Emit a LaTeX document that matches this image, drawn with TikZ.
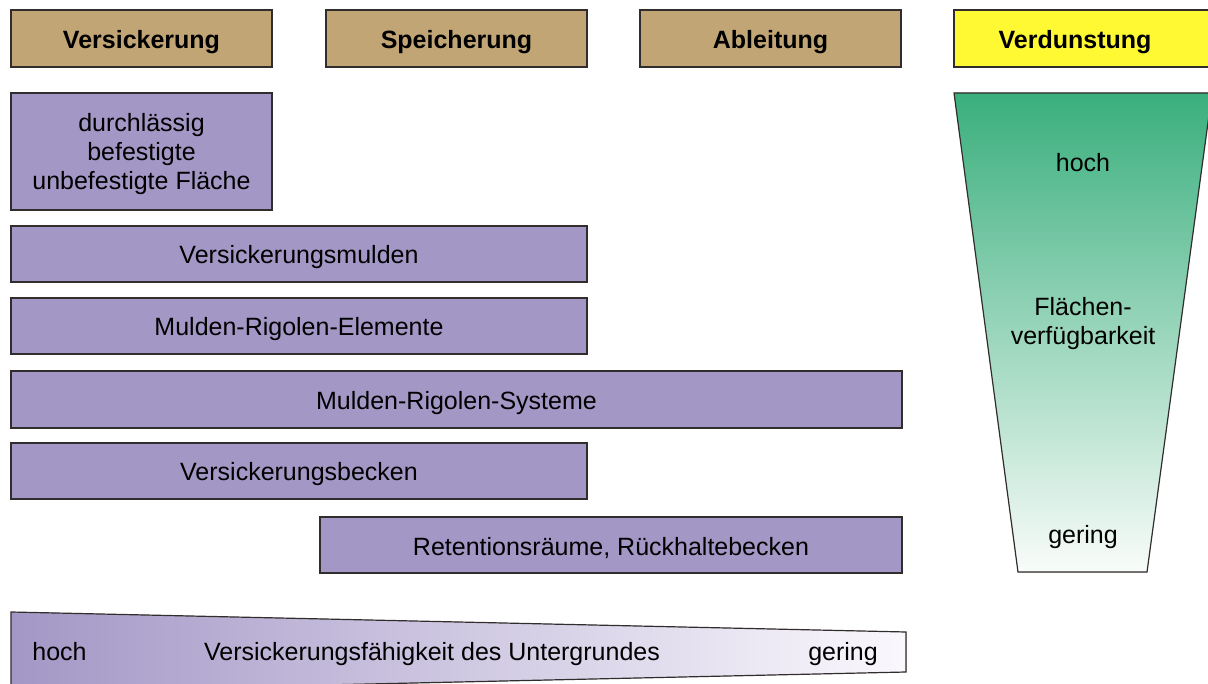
\documentclass[tikz,border=0pt]{standalone}
\usepackage{fontspec}
\setmainfont{Liberation Sans}
\definecolor{tan}{RGB}{193,165,117}
\definecolor{hdryellow}{RGB}{255,249,51}
\definecolor{lila}{RGB}{163,151,198}
\definecolor{lilalight}{RGB}{250,248,253}
\definecolor{greentop}{RGB}{58,175,125}
\definecolor{greenbot}{RGB}{249,252,250}
\definecolor{edge}{RGB}{50,45,45}
\tikzset{
  base/.style={draw=edge, line width=1.2pt, inner sep=0pt, font=\fontsize{25}{29}\selectfont, text height=20pt, text depth=0pt},
  hdr/.style={base, fill=tan, minimum height=57pt, font=\fontsize{25}{29}\selectfont\bfseries},
  ybox/.style={hdr, fill=hdryellow},
  pbox/.style={base, fill=lila, minimum height=56pt, align=center},
  lbl/.style={inner sep=0pt, font=\fontsize{25}{29}\selectfont, align=center, text height=20pt, text depth=0pt},
  multi/.style={text height=, text depth=0pt},
}
\begin{document}
\begin{tikzpicture}[x=1pt,y=-1pt]
\useasboundingbox (0,0) rectangle (1208,684);
\clip (0,0) rectangle (1208,684);
% headers
\node[hdr, minimum width=261pt] (h1) at (141.5,38.5) {Versickerung};
\node[hdr, minimum width=261pt] (h2) at (456.5,38.5) {Speicherung};
\node[hdr, minimum width=261pt] (h3) at (770.5,38.5) {Ableitung};
\node[ybox, minimum width=262pt] (h4) at (1085,38.5) {};
\node[lbl, font=\fontsize{25}{29}\selectfont\bfseries] (h4t) at (1075,38.5) {Verdunstung};
% purple boxes
\node[pbox, multi, minimum width=261pt, minimum height=117pt] (b1) at (141.5,151.5) {durchlässig\\befestigte\\unbefestigte Fläche};
\node[pbox, minimum width=576pt] (b2) at (299,254) {Versickerungsmulden};
\node[pbox, minimum width=576pt] (b3) at (299,326) {Mulden-Rigolen-Elemente};
\node[pbox, minimum width=891pt, minimum height=57pt] (b4) at (456.5,399.5) {Mulden-Rigolen-Systeme};
\node[pbox, minimum width=576pt] (b5) at (299,471) {Versickerungsbecken};
\node[pbox, minimum width=582pt] (b6) at (611,545) {Retentionsräume, Rückhaltebecken};
% Verdunstung trapezoid
\fill[top color=greentop, bottom color=greenbot] (954,93) -- (1212,93) -- (1147,572) -- (1018,572) -- cycle;
\draw[draw=edge, line width=1.2pt] (954,93) -- (1212,93) -- (1147,572) -- (1018,572) -- cycle;
\node[lbl] (v1) at (1083,162) {hoch};
\node[lbl, multi] (v2) at (1083,321) {Flächen-\\verfügbarkeit};
\node[lbl] (v3) at (1083,533) {gering};
% bottom wedge
\fill[left color=lila, right color=lilalight] (11,612) -- (906,632) -- (906,672) -- (11,692) -- cycle;
\draw[draw=edge, line width=1.2pt] (11,612) -- (906,632) -- (906,672) -- (11,692) -- cycle;
\node[lbl] (w1) at (59.5,650) {hoch};
\node[lbl] (w2) at (432,650) {Versickerungsfähigkeit des Untergrundes};
\node[lbl] (w3) at (843,650) {gering};
\end{tikzpicture}
\end{document}
